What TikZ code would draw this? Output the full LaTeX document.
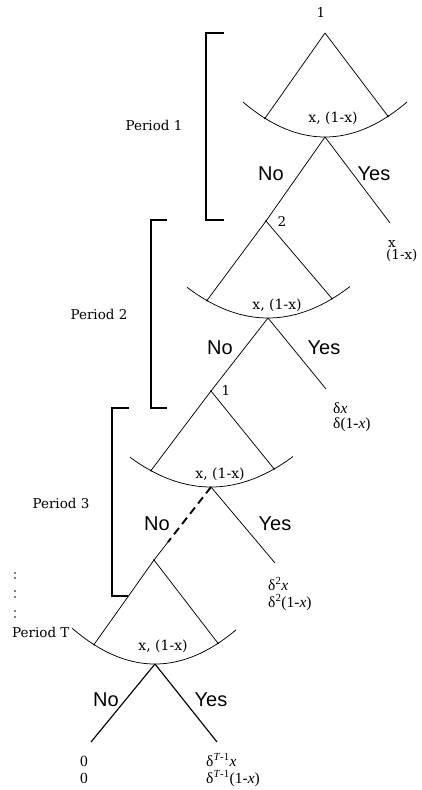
\documentclass[tikz,border=0pt]{standalone}
\usepackage{fontspec}
\setmainfont{Liberation Serif}
\newfontfamily\cent{DejaVu Serif}
\newfontfamily\sansf{Liberation Sans}
\begin{document}
\begin{tikzpicture}[x=1pt,y=-1pt,
  br/.style={line width=0.75pt},
  thickbr/.style={line width=1.15pt},
  brk/.style={line width=1.15pt},
  dashbr/.style={line width=1.9pt, dash pattern=on 8pt off 5pt},
  per/.style={font=\cent\fontsize{13.5}{15}\selectfont, inner sep=0pt},
  info/.style={font=\cent\fontsize{14}{16}\selectfont, inner sep=0pt},
  yn/.style={font=\sansf\fontsize{20}{24}\selectfont, inner sep=0pt},
  pay/.style={font=\fontsize{15.5}{18}\selectfont, inner sep=0pt, anchor=base west},
  payc/.style={font=\cent\fontsize{13.5}{15}\selectfont, inner sep=0pt, anchor=base west},
  tickmark/.style={fill, circle, inner sep=0pt, minimum size=2.2pt}
]
\useasboundingbox (0,0) rectangle (422,790);

% ---------- coordinates ----------
\coordinate (A1) at (325,33);  \coordinate (L1) at (265,118.3); \coordinate (R1) at (388,116.3);
\coordinate (B1) at (325,137); \coordinate (Y1) at (390,223);

\coordinate (A2) at (266,221); \coordinate (L2) at (207,300.4); \coordinate (R2) at (332,298.6);
\coordinate (B2) at (268,318); \coordinate (Y2) at (326,389);

\coordinate (A3) at (211,391); \coordinate (L3) at (151,470.5); \coordinate (R3) at (274,468.8);
\coordinate (B3) at (211,487); \coordinate (Y3) at (275,563); \coordinate (D3) at (168,542);

\coordinate (A4) at (154,560); \coordinate (L4) at (94,644.6); \coordinate (R4) at (218,643.3);
\coordinate (B4) at (155,664); \coordinate (N4) at (91,742); \coordinate (Y4) at (217,742);

% ---------- brackets ----------
\coordinate (K1a) at (224,33);  \coordinate (K1b) at (206,33);  \coordinate (K1c) at (206,220); \coordinate (K1d) at (224,220);
\coordinate (K2a) at (167,220); \coordinate (K2b) at (151,220); \coordinate (K2c) at (151,408); \coordinate (K2d) at (167,408);
\coordinate (K3a) at (129,408); \coordinate (K3b) at (112,408); \coordinate (K3c) at (112,596); \coordinate (K3d) at (128,596);
\draw[brk] (K1a) -- (K1b) -- (K1c) -- (K1d);
\draw[brk] (K2a) -- (K2b) -- (K2c) -- (K2d);
\draw[brk] (K3a) -- (K3b) -- (K3c) -- (K3d);

% ---------- information-set arcs (parabolas) ----------
\foreach \cx/\yb/\wl/\wr/\h in {325/137/82/82/35, 268/318/81/82/31.5, 211/487/81/82/30.5, 155/664/83/81/35}{
  \draw[br] plot[domain=-\wl:\wr, samples=60] ({\cx+\x},{\yb-\h*(\x/82)*(\x/82)});
}

% ---------- trees ----------
\foreach \i in {1,2,3,4}{
  \draw[br] (A\i) -- (L\i);
  \draw[br] (A\i) -- (R\i);
  \node[tickmark] at (L\i) {};
  \node[tickmark] at (R\i) {};
}
\draw[br] (B1) -- (A2);
\draw[br] (B1) -- (Y1);
\draw[br] (B2) -- (A3);
\draw[br] (B2) -- (Y2);
\draw[dashbr] (B3) -- (D3);
\draw[br] (D3) -- (A4);
\draw[br] (B3) -- (Y3);
\draw[thickbr] (B4) -- (N4);
\draw[thickbr] (B4) -- (Y4);
\node[tickmark, minimum size=1.8pt] at (A2) {};
\node[tickmark, minimum size=1.8pt] at (A3) {};
\node[tickmark, minimum size=1.8pt] at (A4) {};

% ---------- player labels ----------
\node[per] (p1) at (321,12) {1};
\node[per] (p2) at (282,221) {2};
\node[per] (p3) at (226,390) {1};

% ---------- information labels ----------
\node[info] (i1) at (333,118) {x, (1-x)};
\node[info] (i2) at (277,305) {x, (1-x)};
\node[info] (i3) at (220,474) {x, (1-x)};
\node[info] (i4) at (163,646) {x, (1-x)};

% ---------- No / Yes ----------
\node[yn] (n1) at (271,174) {No};  \node[yn] (y1) at (374,174) {Yes};
\node[yn] (n2) at (220,348) {No};  \node[yn] (y2) at (324,348) {Yes};
\node[yn] (n3) at (157,524) {No};  \node[yn] (y3) at (275,524) {Yes};
\node[yn] (n4) at (106,700) {No};  \node[yn] (y4) at (211,700) {Yes};

% ---------- periods ----------
\node[per] (P1) at (154,125) {Period 1};
\node[per] (P2) at (99,314) {Period 2};
\node[per] (P3) at (61,503) {Period 3};
\node[per, anchor=west] (PT) at (12,632) {Period T};
\foreach \yy in {573,578,591,597,611,617}{\fill (15,\yy) circle (0.9);}

% ---------- payoffs ----------
\node[payc] (q1a) at (388,247) {x};
\node[payc] (q1b) at (386,259.5) {(1-x)};
\node[pay] (q2a) at (333,413) {δ\textit{x}};
\node[pay] (q2b) at (333,428) {δ(1-\textit{x})};
\node[pay] (q3a) at (268,590) {δ\textsuperscript{2}\textit{x}};
\node[pay] (q3b) at (268,607) {δ\textsuperscript{2}(1-\textit{x})};
\node[pay] (q4a) at (80,766) {0};
\node[pay] (q4b) at (80,783) {0};
\node[pay] (q4c) at (206,766) {δ\textsuperscript{\textit{T}-1}\textit{x}};
\node[pay] (q4d) at (206,783) {δ\textsuperscript{\textit{T}-1}(1-\textit{x})};
\end{tikzpicture}
\end{document}
